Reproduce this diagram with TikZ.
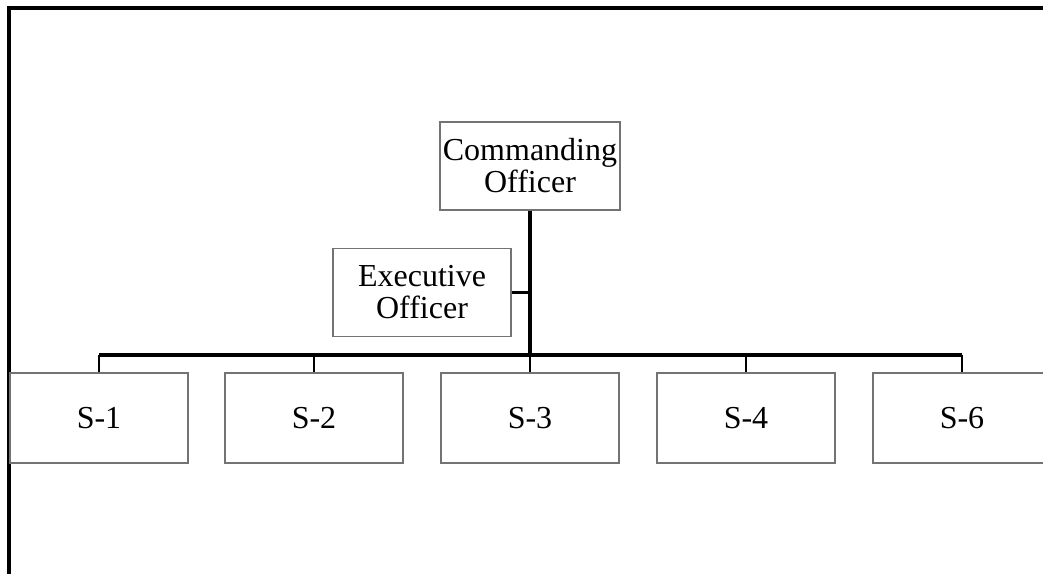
\documentclass[tikz,border=0pt]{standalone}
\usepackage{fontspec}
\setmainfont{Liberation Serif}
\begin{document}
\begin{tikzpicture}[x=0.75pt,y=-0.75pt,
  unit/.style={draw=black!55, line width=0.9pt, fill=white, inner sep=0pt,
    align=center, font=\fontsize{24}{24}\selectfont},
  sbox/.style={unit, minimum width=133.5pt, minimum height=67.5pt},
  frameline/.style={line width=2.3pt},
  trunk/.style={line width=2.3pt},
  link/.style={line width=2.1pt}]
  \useasboundingbox (0,0) rectangle (1043,574);
  \clip (0,0) rectangle (1043,574);
  % outer frame, running off the right and bottom edges
  \draw[frameline] (9,620) -- (9,8) -- (1080,8);

  % command
  \node[unit, minimum width=135pt, minimum height=66pt] (co) at (530,166) {Commanding\\Officer};
  \node[unit, minimum width=133.5pt, minimum height=66.5pt] (xo) at (422,292.5) {Executive\\Officer};

  % staff sections
  \node[sbox] (s1) at (99,418) {S-1};
  \node[sbox] (s2) at (314,418) {S-2};
  \node[sbox] (s3) at (530,418) {S-3};
  \node[sbox] (s4) at (746,418) {S-4};
  \node[sbox] (s6) at (962,418) {S-6};

  % distribution bus
  \coordinate (busL) at (99,355);
  \coordinate (busR) at (962,355);
  \draw[trunk] (busL) -- (busR);
  \draw[trunk] (co.south) -- (co.south |- busL);
  \draw[link] (xo.east) -- (xo.east -| co.south);
  \foreach \s in {s1,s2,s3,s4,s6}
    \draw[link] (\s.north) -- (\s.north |- busL);
\end{tikzpicture}
\end{document}
